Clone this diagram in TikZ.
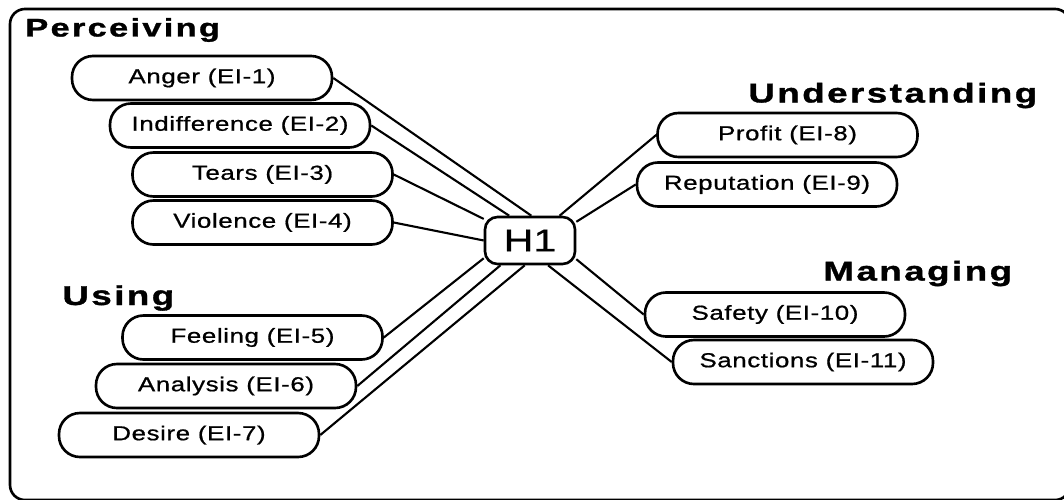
\documentclass[tikz,border=0pt]{standalone}
\usepackage{fontspec}
\setmainfont{Liberation Sans}
\newfontfamily\boxfont[FakeStretch=1.28, LetterSpace=3, FakeBold=0.8]{Liberation Sans}
\newfontfamily\headfont[FakeStretch=1.35, LetterSpace=9, FakeBold=1.2]{Liberation Sans}
\newfontfamily\hubfont[FakeStretch=1.3, FakeBold=0.6]{Liberation Sans}
\usetikzlibrary{positioning, calc}

\begin{document}
\begin{tikzpicture}[
  item/.style={rectangle, rounded corners=0.42cm,
               minimum width=5.2cm, minimum height=0.88cm,
               align=center, draw=black, line width=1.5pt, inner sep=0pt,
               font=\boxfont\fontsize{11.5}{13}\selectfont},
  hub/.style={rectangle, rounded corners=0.25cm,
              minimum width=1.8cm, minimum height=0.94cm,
              draw=black, line width=1.5pt, inner sep=0pt,
              font=\hubfont\fontsize{18}{20}\selectfont},
  area/.style={anchor=base west, inner sep=0pt,
               font=\headfont\bfseries\fontsize{15.5}{17}\selectfont},
  link/.style={line width=1.2pt},
]
\useasboundingbox (0,0) rectangle (21.28,9.98);

%% ── Frame ───────────────────────────────────────────────────────────
\begin{scope}
  \clip (0,0) rectangle (21.28,9.98);
  \draw[line width=1.5pt, rounded corners=0.3cm] (0.2,-0.02) rectangle (21.4,9.8);
\end{scope}

%% ── Centre ──────────────────────────────────────────────────────────
\node[hub] (h1) at (10.6, 5.17) {H1};

%% ── Perceiving ──────────────────────────────────────────────────────
\node[area, font=\headfont\bfseries\fontsize{14.5}{16}\selectfont]
     (perc) at (0.5, 9.25) {Perceiving};
\node[item] (anger)    at (4.04, 8.42) {Anger (EI-1)};
\node[item] (indiff)   at (4.80, 7.47) {Indifference (EI-2)};
\node[item] (tears)    at (5.25, 6.49) {Tears (EI-3)};
\node[item] (violence) at (5.25, 5.53) {Violence (EI-4)};

%% ── Using ───────────────────────────────────────────────────────────
\node[area] (using) at (1.24, 3.88) {Using};
\node[item] (feeling)  at (5.05, 3.23) {Feeling (EI-5)};
\node[item] (analysis) at (4.52, 2.26) {Analysis (EI-6)};
\node[item] (desire)   at (3.78, 1.28) {Desire (EI-7)};

%% ── Understanding ───────────────────────────────────────────────────
\node[area] (under) at (14.96, 7.93) {Understanding};
\node[item] (profit)  at (15.75, 7.28) {Profit (EI-8)};
\node[item] (reput)   at (15.34, 6.29) {Reputation (EI-9)};

%% ── Managing ────────────────────────────────────────────────────────
\node[area] (manag) at (16.46, 4.37) {Managing};
\node[item] (safety)  at (15.50, 3.69) {Safety (EI-10)};
\node[item] (sanct)   at (16.06, 2.74) {Sanctions (EI-11)};

%% ── Links ───────────────────────────────────────────────────────────
\draw[link] (anger.east)    -- (h1.87);
\draw[link] (indiff.east)   -- (h1.130);
\draw[link] (tears.east)    -- (h1.155);
\draw[link] (violence.east) -- (h1.west);
\draw[link] (feeling.east)  -- (h1.201);
\draw[link] (analysis.east) -- (h1.220);
\draw[link] (desire.east)   -- (h1.258);
\draw[link] (profit.west)   -- (h1.40);
\draw[link] (reput.west)    -- (h1.22);
\draw[link] (safety.west)   -- (h1.338);
\draw[link] (sanct.west)    -- (h1.306);

\end{tikzpicture}
\end{document}
